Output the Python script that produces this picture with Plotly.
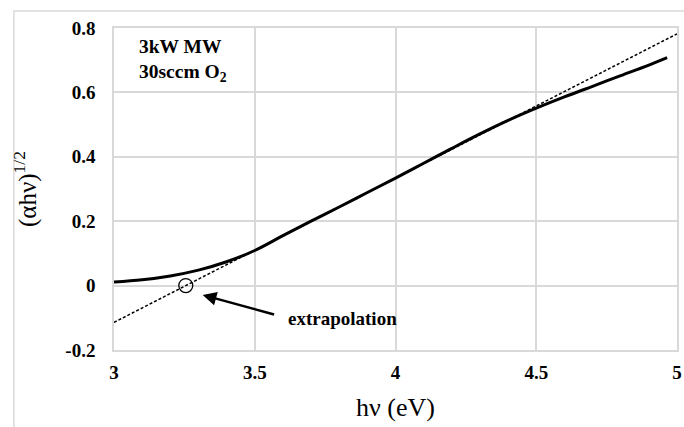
import plotly.graph_objects as go

# Measured (alpha*h*nu)^(1/2) versus photon energy
hv = [3.0, 3.1, 3.2, 3.3, 3.4, 3.5, 3.6, 3.7, 3.8, 3.9, 4.0, 4.1, 4.2,
      4.3, 4.4, 4.5, 4.6, 4.7, 4.8, 4.9, 4.965]
ahv_sqrt = [0.011, 0.018, 0.030, 0.048, 0.074, 0.109, 0.155, 0.200, 0.244,
            0.289, 0.334, 0.380, 0.426, 0.471, 0.513, 0.551, 0.586, 0.619,
            0.652, 0.685, 0.708]

# Linear extrapolation of the absorption edge (Tauc fit)
fit_x = [3.0, 5.0]
fit_slope = 0.448
fit_intercept_x = 3.255
fit_y = [fit_slope * (x - fit_intercept_x) for x in fit_x]

# Band-gap crossing point
gap_x = [fit_intercept_x]
gap_y = [0.0]

x_ticks = [3, 3.5, 4, 4.5, 5]
x_tick_text = ["3", "3.5", "4", "4.5", "5"]
y_ticks = [-0.2, 0, 0.2, 0.4, 0.6, 0.8]
y_tick_text = ["-0.2", "0", "0.2", "0.4", "0.6", "0.8"]

SERIF = "Liberation Serif, Times New Roman, serif"
GRID = "#d9d9d9"

fig = go.Figure()

fig.add_trace(go.Scatter(
    x=fit_x, y=fit_y, mode="lines",
    line=dict(color="black", width=1.5, dash="3px,2px"),
    showlegend=False, hoverinfo="skip"))

fig.add_trace(go.Scatter(
    x=hv, y=ahv_sqrt, mode="lines", line_shape="spline",
    line=dict(color="black", width=3),
    showlegend=False))

fig.add_trace(go.Scatter(
    x=gap_x, y=gap_y, mode="markers",
    marker=dict(symbol="circle-open", size=14, color="black",
                line=dict(color="black", width=1.3)),
    showlegend=False))

fig.update_xaxes(
    range=[3, 5], tickvals=x_ticks, ticktext=x_tick_text,
    showgrid=True, gridcolor=GRID, gridwidth=1.5,
    showline=True, linecolor=GRID, linewidth=1.5, mirror=True,
    zeroline=False, ticks="", ticklabelstandoff=4,
    ticklabeloverflow="allow",
    tickfont=dict(family=SERIF, size=19, color="black", weight="bold"))

fig.update_yaxes(
    range=[-0.2, 0.8], tickvals=y_ticks, ticktext=y_tick_text,
    showgrid=True, gridcolor=GRID, gridwidth=1.5,
    showline=True, linecolor=GRID, linewidth=1.5, mirror=True,
    zeroline=False, ticks="", ticklabelstandoff=13,
    tickfont=dict(family=SERIF, size=19, color="black", weight="bold"))

fig.update_layout(
    width=684, height=427,
    margin=dict(l=114, r=2, t=28, b=77),
    paper_bgcolor="white", plot_bgcolor="white",
    font=dict(family=SERIF, color="black"),
    annotations=[
        dict(text="hν (eV)", xref="paper", yref="paper", x=0.5, y=-0.18,
             xanchor="center", yanchor="middle", showarrow=False,
             font=dict(size=26, family=SERIF)),
        dict(text="(αhν)<sup>1/2</sup>", xref="paper", yref="paper",
             x=-0.158, y=0.5, xanchor="center", yanchor="middle",
             textangle=-90, showarrow=False,
             font=dict(size=25, family=SERIF)),
        dict(text="<b>3kW MW<br>30sccm O<sub>2</sub></b>", xref="x", yref="y",
             x=3.08, y=0.78, xanchor="left", yanchor="top", align="left",
             showarrow=False, font=dict(size=19.5, family=SERIF)),
        dict(text="<b>extrapolation</b>", xref="x", yref="y",
             x=3.61, y=-0.101, xanchor="left", yanchor="middle",
             showarrow=False, font=dict(size=19, family=SERIF)),
        dict(text="", xref="x", yref="y", x=3.315, y=-0.029,
             axref="x", ayref="y", ax=3.574, ay=-0.091,
             showarrow=True, arrowhead=2, arrowsize=1.1, arrowwidth=2.5,
             arrowcolor="black"),
    ],
    shapes=[
        dict(type="rect", xref="paper", yref="paper",
             x0=(13 - 114) / 568, x1=1.05,
             y0=-0.3, y1=(350 - 11) / 322,
             line=dict(color=GRID, width=1.5), layer="below"),
    ],
)

fig.write_html("out.html")
